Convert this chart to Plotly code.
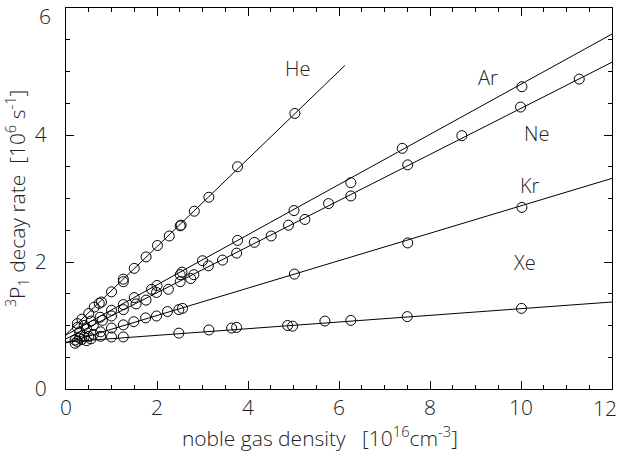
import plotly.graph_objects as go

gases = ["He", "Ar", "Ne", "Kr", "Xe"]

he_x = [0.25, 0.35, 0.5, 0.62, 0.73, 0.78, 1.0, 1.26, 1.26, 1.50, 1.76, 2.01, 2.27, 2.51, 2.53, 2.82, 3.14, 3.77, 5.03]
he_y = [1.03, 1.10, 1.19, 1.29, 1.35, 1.37, 1.53, 1.73, 1.69, 1.90, 2.08, 2.26, 2.41, 2.57, 2.58, 2.80, 3.02, 3.50, 4.34]

ar_x = [0.25, 0.4, 0.55, 0.75, 1.0, 1.26, 1.5, 1.88, 2.0, 2.51, 2.55, 3.0, 3.77, 5.01, 6.26, 7.39, 10.02]
ar_y = [0.97, 1.00, 1.07, 1.13, 1.24, 1.33, 1.44, 1.57, 1.63, 1.80, 1.84, 2.02, 2.34, 2.81, 3.25, 3.79, 4.76]

ne_x = [0.3, 0.45, 0.6, 0.8, 1.0, 1.26, 1.54, 1.76, 1.99, 2.25, 2.51, 2.74, 2.81, 3.13, 3.44, 3.75, 4.14,
        4.51, 4.89, 5.25, 5.77, 6.26, 7.51, 8.70, 9.99, 11.28]
ne_y = [0.90, 0.95, 1.00, 1.08, 1.15, 1.25, 1.34, 1.40, 1.52, 1.57, 1.69, 1.74, 1.80, 1.94, 2.03, 2.14, 2.31,
        2.41, 2.58, 2.67, 2.92, 3.04, 3.53, 3.99, 4.44, 4.88]

kr_x = [0.2, 0.3, 0.4, 0.5, 0.6, 0.76, 1.0, 1.26, 1.49, 1.75, 1.99, 2.23, 2.48, 2.56, 5.02, 7.51, 10.02]
kr_y = [0.77, 0.80, 0.82, 0.83, 0.86, 0.90, 0.96, 1.01, 1.06, 1.12, 1.15, 1.22, 1.25, 1.27, 1.81, 2.30, 2.86]

xe_x = [0.2, 0.25, 0.35, 0.45, 0.55, 0.76, 1.0, 1.26, 2.48, 3.14, 3.64, 3.75, 4.87, 4.98, 5.69, 6.26, 7.50, 10.01]
xe_y = [0.72, 0.75, 0.78, 0.76, 0.79, 0.83, 0.82, 0.82, 0.88, 0.93, 0.96, 0.97, 1.00, 0.99, 1.07, 1.08, 1.14, 1.27]

# linear fits: intercept, slope, x-extent
fit_intercept = [0.86, 0.85, 0.79, 0.725, 0.74]
fit_slope = [0.691, 0.395, 0.363, 0.216, 0.0525]
fit_xmax = [6.13, 12.0, 12.0, 12.0, 12.0]

# label positions (data coords)
label_x = [5.08, 9.27, 10.35, 10.2, 10.07]
label_y = [5.05, 4.91, 4.02, 3.2, 2.0]

# tick labels
x_tickvals = [0, 2, 4, 6, 8, 10, 12]
x_ticktext = ["0", "2", "4", "6", "8", "10", ""]
y_tickvals = [0, 2, 4, 6]
y_ticktext = ["0", "2", "4", ""]
x_edge_label = "12"
y_edge_label = "6"

xs = [he_x, ar_x, ne_x, kr_x, xe_x]
ys = [he_y, ar_y, ne_y, kr_y, xe_y]

FONT = "Open Sans"
TXT = dict(family=FONT, color="#222", weight=300)
fig = go.Figure()

for i, g in enumerate(gases):
    x0, x1 = 0.0, fit_xmax[i]
    fig.add_trace(go.Scatter(
        x=[x0, x1],
        y=[fit_intercept[i] + fit_slope[i] * x0, fit_intercept[i] + fit_slope[i] * x1],
        mode="lines", line=dict(color="black", width=1), showlegend=False, hoverinfo="skip"))
    fig.add_trace(go.Scatter(
        x=xs[i], y=ys[i], mode="markers", name=g,
        marker=dict(symbol="circle-open", size=10, color="black", line=dict(width=1)),
        showlegend=False))
    fig.add_annotation(x=label_x[i], y=label_y[i], text=g, showarrow=False,
                       font=dict(size=20, **TXT))

# edge tick labels, nudged inside the page as in the original
fig.add_annotation(x=x_tickvals[-1], y=0, xref="x", yref="paper", text=x_edge_label,
                   showarrow=False, xanchor="right", yanchor="top", xshift=7, yshift=-3,
                   font=dict(size=21, **TXT))
fig.add_annotation(x=0, y=y_tickvals[-1], xref="paper", yref="y", text=y_edge_label,
                   showarrow=False, xanchor="right", yanchor="middle", xshift=-13, yshift=-8,
                   font=dict(size=21, **TXT))

axis_common = dict(
    showline=True, linecolor="black", linewidth=1.3, mirror="ticks",
    ticks="inside", ticklen=8, tickwidth=1, tickcolor="black",
    showgrid=False, zeroline=False, ticklabeloverflow="allow", automargin=False,
    tickfont=dict(size=21, **TXT),
    minor=dict(ticks="inside", ticklen=4, tickwidth=1, tickcolor="black", dtick=0.5, showgrid=False),
)

fig.update_xaxes(range=[0, 12], tickmode="array", tickvals=x_tickvals, ticktext=x_ticktext,
                 title=dict(text="noble gas density&nbsp;&nbsp;&nbsp;[10<sup>16</sup>cm<sup>-3</sup>]"
                                 "&nbsp;&nbsp;&nbsp;&nbsp;&nbsp;&nbsp;&nbsp;",
                            font=dict(size=21, **TXT), standoff=4),
                 **axis_common)
fig.update_yaxes(range=[0, 6], tickmode="array", tickvals=y_tickvals, ticktext=y_ticktext,
                 ticklabelstandoff=14,
                 title=dict(text="<sup>3</sup>P<sub>1</sub> decay rate&nbsp;&nbsp;[10<sup>6</sup> s<sup>-1</sup>]",
                            font=dict(size=21, **TXT), standoff=4),
                 **axis_common)

fig.update_layout(
    width=621, height=455,
    margin=dict(l=66, r=9, t=8, b=66, autoexpand=False),
    paper_bgcolor="white", plot_bgcolor="white",
    showlegend=False,
)

fig.write_html("out.html")
